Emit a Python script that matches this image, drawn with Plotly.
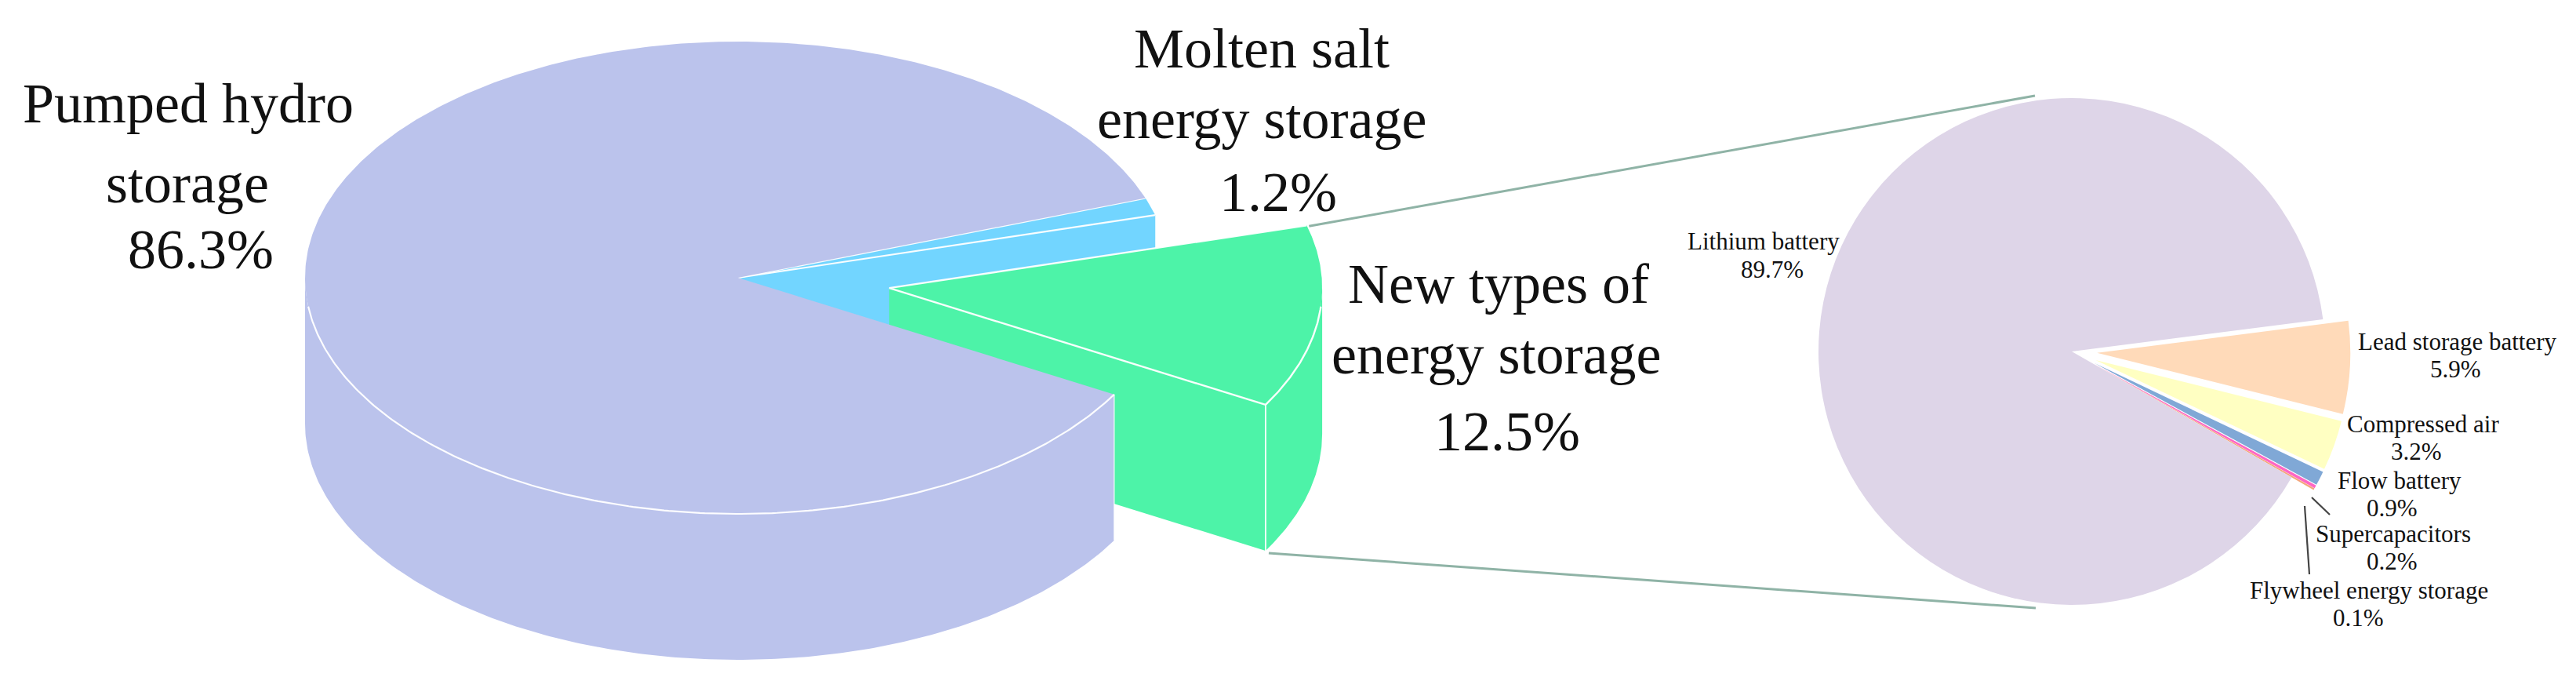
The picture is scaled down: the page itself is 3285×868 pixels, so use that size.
import numpy as np
import plotly.graph_objects as go

# ---- data ----
main_labels = ["Pumped hydro storage", "Molten salt energy storage", "New types of energy storage"]
main_shares = [86.3, 1.2, 12.5]
main_colors = ["#BBC3EC", "#72D5FF", "#4DF3A8"]

sub_labels = ["Lead storage battery", "Compressed air", "Flow battery",
              "Supercapacitors", "Flywheel energy storage", "Lithium battery"]
sub_shares = [5.9, 3.2, 0.9, 0.2, 0.1, 89.7]
sub_colors = ["#FFDAB9", "#FFFFC2", "#80A8D6", "#FF66C4", "#F4A57A", "#DED5E8"]
sub_pull = [0.1, 0.1, 0.1, 0.1, 0.1, 0]

# ---- layout constants (pixels of the 3285x868 page) ----
W, H = 3285, 868
CX, CY, RX, RY, DEPTH = 941, 354, 552, 301, 186   # tilted disc
START_DEG = 19.7          # where the first main slice starts, counter-clockwise
PULL = 0.3525             # how far the new-storage slice is pulled out
PIE_CX, PIE_CY, PIE_R = 2642, 448, 323
SUB_ROT = 82.7

def deg(share):
    return share * 3.6

a_hydro_0 = START_DEG
a_hydro_1 = a_hydro_0 + deg(main_shares[0])
a_salt_1 = START_DEG
a_salt_0 = a_salt_1 - deg(main_shares[1])
a_new_1 = a_salt_0
a_new_0 = a_new_1 - deg(main_shares[2])
a_mid = np.radians((a_new_0 + a_new_1) / 2)
NX = CX + PULL * RX * np.cos(a_mid)
NY = CY - PULL * RY * np.sin(a_mid)

def rim(cx, cy, a0, a1, dz=0, n=240):
    t = np.radians(np.linspace(a0, a1, n))
    return cx + RX * np.cos(t), cy - RY * np.sin(t) + dz

def pt(cx, cy, a, dz=0):
    t = np.radians(a)
    return float(cx + RX * np.cos(t)), float(cy - RY * np.sin(t) + dz)

fig = go.Figure()

def poly(xs, ys, color):
    fig.add_trace(go.Scatter(x=list(xs), y=list(ys), mode="lines", fill="toself", fillcolor=color,
                             line=dict(width=0, color=color), hoverinfo="skip", showlegend=False))

def edge(xs, ys, width=2.2, color="rgba(255,255,255,0.95)"):
    fig.add_trace(go.Scatter(x=list(xs), y=list(ys), mode="lines", line=dict(width=width, color=color),
                             hoverinfo="skip", showlegend=False))

c_hydro, c_salt, c_new = main_colors

# molten-salt slice: cut face, then top
rx0, ry0 = pt(CX, CY, a_salt_0)
rx1, ry1 = pt(CX, CY, a_salt_1)
poly([CX, rx0, rx0, CX], [CY, ry0, ry0 + DEPTH, CY + DEPTH], c_salt)
tx, ty = rim(CX, CY, a_salt_0, a_salt_1, n=30)
poly(np.r_[CX, tx], np.r_[CY, ty], c_salt)
edge([CX, rx0], [CY, ry0])
edge([CX, rx1], [CY, ry1])

# new-storage slice: cut face, outer wall, top
gx0, gy0 = pt(NX, NY, a_new_0)
poly([NX, gx0, gx0, NX], [NY, gy0, gy0 + DEPTH, NY + DEPTH], c_new)
wx, wy = rim(NX, NY, a_new_0, 0, n=80)
poly(np.r_[wx, wx[::-1]], np.r_[wy, wy[::-1] + DEPTH], c_new)
tx, ty = rim(NX, NY, a_new_0, a_new_1, n=120)
poly(np.r_[NX, tx], np.r_[NY, ty], c_new)
gx1, gy1 = pt(NX, NY, a_new_1)
edge([gx1, NX, gx0], [gy1, NY, gy0], 2.4)
edge(wx[:68], wy[:68], 2.4)
edge([gx0, gx0], [gy0, gy0 + DEPTH], 1.8)

# pumped-hydro body: outer wall, cut side, top
wx, wy = rim(CX, CY, 180, a_hydro_1, n=240)
poly(np.r_[wx, wx[::-1]], np.r_[wy, wy[::-1] + DEPTH], c_hydro)
tx, ty = rim(CX, CY, a_hydro_0, a_hydro_1, n=500)
poly(np.r_[CX, tx], np.r_[CY, ty], c_hydro)
wx, wy = rim(CX, CY, 187, a_hydro_1, n=240)
edge(wx, wy, 2.2)
hx, hy = pt(CX, CY, a_hydro_1)
edge([hx, hx], [hy, hy + DEPTH], 1.2)

# connectors from the pulled slice to the detail pie
conn = "#8FB3A6"
CONN_TOP_END = (2595, 122)
CONN_BOT_END = (2596, 775)
edge([gx1 + 3, CONN_TOP_END[0]], [gy1 + 1, CONN_TOP_END[1]], 3, conn)
edge([gx0 + 4, CONN_BOT_END[0]], [gy0 + DEPTH + 3, CONN_BOT_END[1]], 3, conn)

# detail pie
dom = PIE_R * (1 + max(sub_pull))
fig.add_trace(go.Pie(
    labels=sub_labels, values=sub_shares, sort=False, direction="clockwise", rotation=SUB_ROT,
    pull=sub_pull, textinfo="none", hoverinfo="label+percent", showlegend=False,
    marker=dict(colors=sub_colors, line=dict(width=0)),
    domain=dict(x=[(PIE_CX - dom) / W, (PIE_CX + dom) / W],
                y=[1 - (PIE_CY + dom) / H, 1 - (PIE_CY - dom) / H]),
))

# leader lines of the two thinnest slices
edge([2948, 2971], [634, 656], 2.2, "#444444")
edge([2939, 2945], [645, 732], 2.2, "#444444")

def pct(v):
    return f"{v}%"

big = [
    ("Pumped hydro", 240, 132), ("storage", 239, 234), (pct(main_shares[0]), 256, 318),
    ("Molten salt", 1609, 62), ("energy storage", 1609, 152), (pct(main_shares[1]), 1630, 245),
    ("New types of", 1911, 362), ("energy storage", 1908, 452), (pct(main_shares[2]), 1922, 550),
]
small = [
    ("Lithium battery", 2249, 307), (pct(sub_shares[5]), 2260, 343),
    ("Lead storage battery", 3134, 435), (pct(sub_shares[0]), 3131, 470),
    ("Compressed air", 3090, 540), (pct(sub_shares[1]), 3081, 575),
    ("Flow battery", 3060, 612), (pct(sub_shares[2]), 3050, 647),
    ("Supercapacitors", 3052, 680), (pct(sub_shares[3]), 3050, 715),
    ("Flywheel energy storage", 3021, 752), (pct(sub_shares[4]), 3007, 787),
]
annotations = []
for group, size in ((big, 72), (small, 31)):
    for text, x, y in group:
        annotations.append(dict(x=x, y=y, xref="x", yref="y", text=text, showarrow=False,
                                xanchor="center", yanchor="middle",
                                font=dict(family="Liberation Serif", size=size, color="#111111")))

fig.update_layout(
    width=W, height=H, margin=dict(l=0, r=0, t=0, b=0), paper_bgcolor="white", plot_bgcolor="white",
    xaxis=dict(range=[0, W], visible=False, domain=[0, 1], fixedrange=True),
    yaxis=dict(range=[H, 0], visible=False, domain=[0, 1], fixedrange=True),
    annotations=annotations, showlegend=False,
)
fig.write_html("out.html", config=dict(displayModeBar=False),
               post_script="document.body.style.margin='0';document.documentElement.style.overflow='hidden';")
